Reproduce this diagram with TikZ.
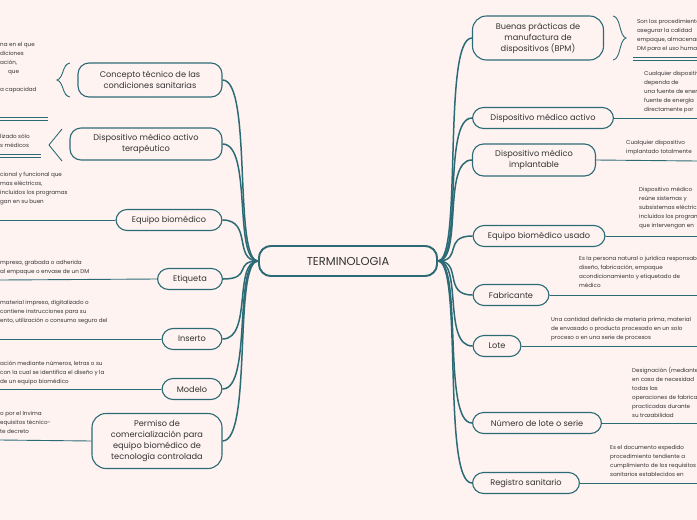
\documentclass[tikz,border=0pt]{standalone}
\usepackage{fontspec}
\setmainfont{Poppins}
\definecolor{bg}{HTML}{FEF3F1}
\definecolor{teal}{HTML}{2C6B75}
\definecolor{txt}{HTML}{333333}
\tikzset{
 topic/.style={draw=teal,line width=1.1pt,rounded corners=11pt,fill=bg,align=center,font=\fontsize{8.2}{11}\selectfont,text=txt,inner xsep=10pt,inner ysep=3pt,minimum height=21pt},
 center/.style={draw=teal,line width=1.8pt,rounded corners=12pt,fill=bg,minimum width=178pt,minimum height=30pt,font=\fontsize{11.5}{13}\selectfont,text=txt},
 conn/.style={draw=teal,line width=1.5pt},
 deftxt/.style={font=\fontsize{5.6}{9}\selectfont,text=txt,align=left,inner sep=0pt,anchor=north west},
 uline/.style={draw=teal,line width=0.9pt}
}
\begin{document}
\begin{tikzpicture}[x=1pt,y=-1pt]
\fill[bg] (0,0) rectangle (697,520);
\useasboundingbox (0,0) rectangle (697,520);
\clip (0,0) rectangle (697,520);
\node[center] (c) at (348,261) {TERMINOLOGIA};
% left topics
\node[topic,minimum width=144pt,minimum height=34pt] (l1) at (150,80) {Concepto técnico de las\\condiciones sanitarias};
\node[topic,minimum width=152pt,minimum height=32pt] (l2) at (146,144) {Dispositivo médico activo\\terapéutico};
\node[topic,minimum width=106pt] (l3) at (169,220) {Equipo biomédico};
\node[topic,minimum width=65pt] (l4) at (190,279) {Etiqueta};
\node[topic,minimum width=60pt] (l5) at (192,339) {Inserto};
\node[topic,minimum width=60pt] (l6) at (192,389) {Modelo};
\node[topic,minimum width=130pt,minimum height=55pt,rounded corners=14pt] (l7) at (157,441) {Permiso de\\comercialización para\\equipo biomédico de\\tecnología controlada};
% right topics
\node[topic,minimum width=131pt,minimum height=44pt,rounded corners=14pt] (r1) at (538,38) {Buenas prácticas de\\manufactura de\\dispositivos (BPM)};
\node[topic,minimum width=141pt] (r2) at (543,118) {Dispositivo médico activo};
\node[topic,minimum width=123pt,minimum height=32pt] (r3) at (534,160) {Dispositivo médico\\implantable};
\node[topic,minimum width=132pt] (r4) at (539,236) {Equipo biomédico usado};
\node[topic,minimum width=76pt] (r5) at (511,295) {Fabricante};
\node[topic,minimum width=48pt] (r6) at (497,346) {Lote};
\node[topic,minimum width=129pt] (r7) at (537,423) {Número de lote o serie};
\node[topic,minimum width=107pt] (r8) at (526,483) {Registro sanitario};
% connectors
\foreach \n in {l1,l2,l3,l4,l5,l6,l7}{
  \draw[conn] (c.west) .. controls +(-25,0) and +(30,0) .. (\n.east);
}
\foreach \n in {r1,r2,r3,r4,r5,r6,r7,r8}{
  \draw[conn] (c.east) .. controls +(25,0) and +(-30,0) .. (\n.west);
}
\node[center] at (348,261) {TERMINOLOGIA};
% left definitions
\draw[teal,line width=0.9pt] (70,63) .. controls (62,64) and (64,78) .. (57,80) .. controls (64,82) and (62,96) .. (70,97);
\node[deftxt] (d1) at (0,42) {na en el que\\ diciones\\ ación,\\ \hspace{8pt}que\\ \\a capacidad};
\draw[uline] (0,117) -- (48,117); \draw[uline] (0,120) -- (48,120);
\draw[teal,line width=0.9pt] (62,129) -- (49,145) -- (62,161);
\node[deftxt] (d2) at (0,134) {lizado sólo\\s médicos};
\draw[uline] (0,154) -- (41,154); \draw[uline] (0,157) -- (41,157);
\node[deftxt] (d3) at (0,172) {cional y funcional que\\mas eléctricos,\\ incluidos los programas\\gan en su buen};
\coordinate (e3) at (0,220); \draw[uline] (e3) -- (l3.west);
\node[deftxt] (d4) at (0,260) {mpresa, grabada o adherida\\al empaque o envase de un DM};
\coordinate (e4) at (0,280); \draw[uline] (e4) -- (l4.west);
\node[deftxt] (d5) at (0,300) {material impreso, digitalizado o\\contiene instrucciones para su\\ento, utilización o consumo seguro del};
\coordinate (e5) at (0,339); \draw[uline] (e5) -- (l5.west);
\node[deftxt] (d6) at (0,361) {ación mediante números, letras o su\\ con la cual se identifica el diseño y la\\ de un equipo biomédico};
\coordinate (e6) at (0,389); \draw[uline] (e6) -- (l6.west);
\node[deftxt] (d7) at (0,411) {o por el Invima\\equisitos técnico-\\te decreto};
\coordinate (e7) at (0,440); \draw[uline] (e7) -- (l7.west);
% right definitions
\draw[teal,line width=0.9pt] (613,16) .. controls (621,17) and (619,36) .. (626,38) .. controls (619,40) and (621,59) .. (613,60);
\node[deftxt] (s1) at (637,19) {Son los procedimientos\\asegurar la calidad\\empaque, almacenamiento\\DM para el uso humano};
\draw[uline] (633,57) -- (697,57); \draw[uline] (633,60) -- (697,60);
\node[deftxt] (s2) at (644,71) {Cualquier dispositivo\\dependa de\\ una fuente de energía\\fuente de energía\\directamente por};
\coordinate (f2) at (697,118); \draw[uline] (r2.east) -- (f2);
\node[deftxt] (s3) at (626,140) {Cualquier dispositivo\\implantado totalmente};
\coordinate (f3) at (697,161); \draw[uline] (r3.east) -- (f3);
\node[deftxt] (s4) at (639,187) {Dispositivo médico\\reúne sistemas y\\subsistemas eléctricos\\incluidos los programas\\que intervengan en};
\coordinate (f4) at (697,236); \draw[uline] (r4.east) -- (f4);
\node[deftxt] (s5) at (579,256) { Es la persona natural o jurídica responsable\\diseño, fabricación, empaque\\acondicionamiento y etiquetado de\\médico};
\coordinate (f5) at (697,295); \draw[uline] (r5.east) -- (f5);
\node[deftxt] (s6) at (551,317) {Una cantidad definida de materia prima, material\\de envasado o producto procesado en un solo\\proceso o en una serie de procesos};
\coordinate (f6) at (697,346); \draw[uline] (r6.east) -- (f6);
\node[deftxt] (s7) at (632,367) {Designación (mediante\\en caso de necesidad\\todas las\\ operaciones de fabricación\\practicadas durante\\su trazabilidad};
\coordinate (f7) at (697,423); \draw[uline] (r7.east) -- (f7);
\node[deftxt] (s8) at (610,445) {Es el documento expedido\\procedimiento tendiente a\\cumplimiento de los requisitos\\sanitarios establecidos en};
\coordinate (f8) at (697,483); \draw[uline] (r8.east) -- (f8);
\end{tikzpicture}
\end{document}
